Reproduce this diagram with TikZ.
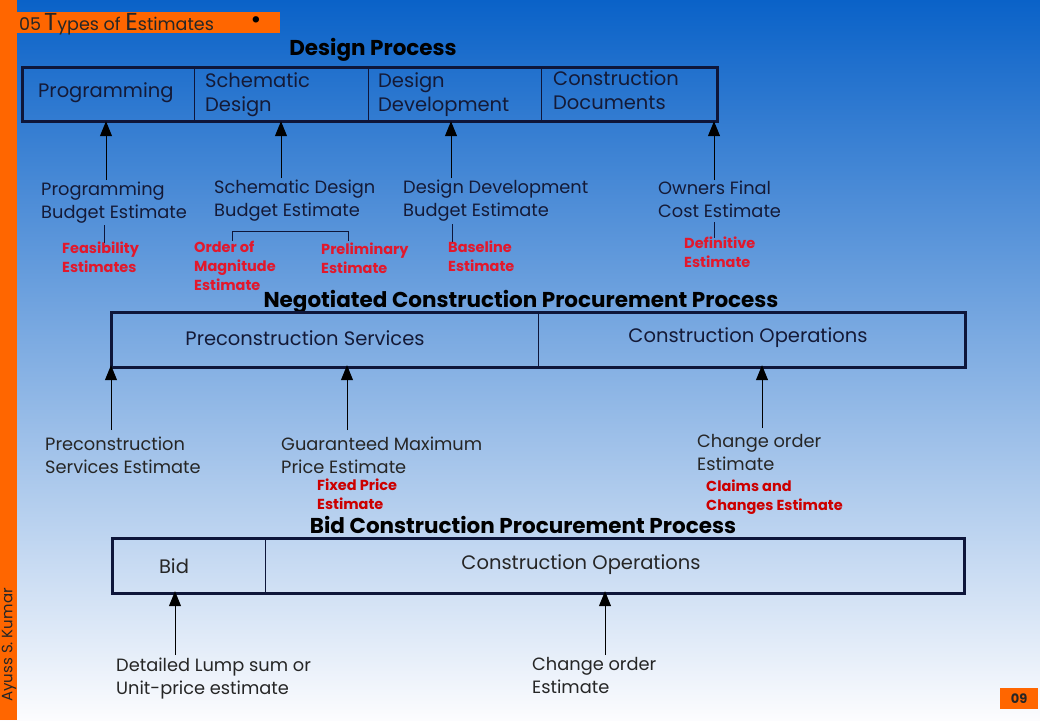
\documentclass[tikz,border=0pt]{standalone}
\usepackage{fontspec}
\setmainfont{Poppins}
\usetikzlibrary{arrows.meta}
\definecolor{bgtop}{RGB}{10,98,200}
\definecolor{bgmid}{RGB}{165,185,228}
\definecolor{bgbot}{RGB}{252,252,254}
\definecolor{orng}{RGB}{255,102,0}
\definecolor{navy}{RGB}{14,22,58}
\definecolor{txt}{RGB}{20,26,55}
\definecolor{redl}{RGB}{226,24,44}
\tikzset{
  cell/.style={draw=navy, line width=1.2pt, inner sep=0pt},
  celltxt/.style={inner sep=0pt, align=left, text=txt, font=\fontsize{19.5}{24}\selectfont},
  outer/.style={draw=navy, line width=3pt},
  lbl/.style={anchor=base west, inner sep=0pt, align=left, text=txt, font=\fontsize{17.8}{23}\selectfont},
  red/.style={anchor=base west, inner sep=0pt, align=left, text=redl, font=\bfseries\fontsize{14.5}{19}\selectfont},
  ttl/.style={inner sep=0pt, text=black, font=\bfseries\fontsize{21.5}{24}\selectfont},
  arr/.style={draw=black, line width=1pt, -{Triangle[length=15pt,width=12pt]}},
  tick/.style={draw=navy, line width=1pt}
}
\begin{document}
\begin{tikzpicture}[x=1pt,y=-1pt]
\useasboundingbox (0,0) rectangle (1040,720);
\shade[top color=bgtop, middle color=bgmid, bottom color=bgbot] (0,0) rectangle (1040,720);
\fill[orng] (0,0) rectangle (17,720);
\fill[orng] (17,12) rectangle (280,33);
\node[anchor=base west, inner sep=0pt, text=black!85] (hdr) at (19,30)
  {\fontsize{17.5}{18}\selectfont 05\,{\fontsize{24.5}{22}\selectfont T}ypes of {\fontsize{24.5}{22}\selectfont E}stimates};
\node[inner sep=0pt, text=black] (dot) at (256,22.5) {\fontsize{26}{26}\selectfont•};
\node[rotate=90, inner sep=0pt, text=black!85, font=\fontsize{15}{17}\selectfont] (auth) at (9,645) {Ayuss S. Kumar};
\fill[orng] (1000,688) rectangle (1038,709);
\node[inner sep=0pt, text=black!85, font=\bfseries\fontsize{13}{15}\selectfont] (pg) at (1019,698.5) {09};

% Design process
\node[ttl] (t1) at (373,50) {Design Process};
\node[cell, minimum width=172pt, minimum height=53pt, anchor=north west] (prog) at (22,67) {};
\node[celltxt, anchor=west] (progt) at (38,93) {Programming};
\node[cell, minimum width=174pt, minimum height=53pt, anchor=north west] (sd) at (194,67) {};
\node[celltxt, anchor=north west] (sdt) at (205,72) {Schematic\\Design};
\node[cell, minimum width=173pt, minimum height=53pt, anchor=north west] (dd) at (368,67) {};
\node[celltxt, anchor=north west] (ddt) at (378,72) {Design\\Development};
\node[cell, minimum width=175pt, minimum height=53pt, anchor=north west] (cd) at (541,67) {};
\node[celltxt, anchor=north west] (cdt) at (553,70.5) {Construction\\Documents};
\draw[outer] (prog.north west) rectangle (cd.south east);

\node[lbl] (l1) at (41,218) {Programming\\Budget Estimate};
\node[lbl] (l2) at (214,216) {Schematic Design\\Budget Estimate};
\node[lbl] (l3) at (403,216) {Design Development\\Budget Estimate};
\node[lbl] (l4) at (658,217) {Owners Final\\Cost Estimate};
\coordinate (a1) at (106,180);
\coordinate (a2) at (281,178);
\coordinate (a3) at (451,178);
\coordinate (a4) at (714,180);
\draw[arr] (a1) -- (a1 |- prog.south);
\draw[arr] (a2) -- (a2 |- sd.south);
\draw[arr] (a3) -- (a3 |- dd.south);
\draw[arr] (a4) -- (a4 |- cd.south);

\node[red] (r1) at (62,272) {Feasibility\\Estimates};
\node[red] (r2) at (194,290) {Order of\\Magnitude\\Estimate};
\node[red] (r3) at (321,273) {Preliminary\\Estimate};
\node[red] (r4) at (448,271) {Baseline\\Estimate};
\node[red] (r5) at (684,267) {Definitive\\Estimate};
\coordinate (k1) at (104,225);
\coordinate (k3) at (452,224);
\coordinate (k4) at (714,222);
\draw[tick] (k1) -- ([yshift=-2pt]k1 |- r1.north);
\draw[tick] (k3) -- ([yshift=-2pt]k3 |- r4.north);
\draw[tick] (k4) -- ([yshift=-2pt]k4 |- r5.north);
\coordinate (b1) at (232,241);
\coordinate (b2) at (348,241);
\draw[tick] (b1) -- ++(0,-10) -| (b2);

% Negotiated
\node[ttl] (t2) at (521,302) {Negotiated Construction Procurement Process};
\node[cell, minimum width=427pt, minimum height=54pt, anchor=north west] (pre) at (111,312) {};
\node[celltxt] (pret) at (305,338) {Preconstruction Services};
\node[cell, minimum width=426pt, minimum height=54pt, anchor=north west] (co1) at (538,312) {};
\node[celltxt] (co1t) at (748,338) {Construction Operations};
\draw[outer] (pre.north west) rectangle (co1.south east);

\node[lbl, text=black!85] (m1) at (45,473) {Preconstruction\\Services Estimate};
\node[lbl, text=black!85] (m2) at (281,473) {Guaranteed Maximum\\Price Estimate};
\node[lbl, text=black!85] (m3) at (697,470) {Change order\\Estimate};
\coordinate (c1) at (111,430);
\coordinate (c2) at (347,430);
\coordinate (c3) at (762,428);
\draw[arr] (c1) -- ([yshift=2pt]c1 |- pre.south);
\draw[arr] (c2) -- ([yshift=2pt]c2 |- pre.south);
\draw[arr] (c3) -- ([yshift=2pt]c3 |- co1.south);
\node[red, text=red!80!black] (r6) at (317,509) {Fixed Price\\Estimate};
\node[red, text=red!80!black] (r7) at (706,510) {Claims and\\Changes Estimate};

% Bid
\node[ttl] (t3) at (523,525) {Bid Construction Procurement Process};
\node[cell, minimum width=153pt, minimum height=54pt, anchor=north west] (bid) at (112,538) {};
\node[celltxt, text=black!85] (bidt) at (174,566) {Bid};
\node[cell, minimum width=698pt, minimum height=54pt, anchor=north west] (co2) at (265,538) {};
\node[celltxt, text=black!85] (co2t) at (581,565) {Construction Operations};
\draw[outer] (bid.north west) rectangle (co2.south east);

\node[lbl, text=black!85] (n1) at (116,694) {Detailed Lump sum or\\Unit-price estimate};
\node[lbl, text=black!85] (n2) at (532,693) {Change order\\Estimate};
\coordinate (d1) at (175,655);
\coordinate (d2) at (605,655);
\draw[arr] (d1) -- ([yshift=2pt]d1 |- bid.south);
\draw[arr] (d2) -- ([yshift=2pt]d2 |- co2.south);
\end{tikzpicture}
\end{document}
